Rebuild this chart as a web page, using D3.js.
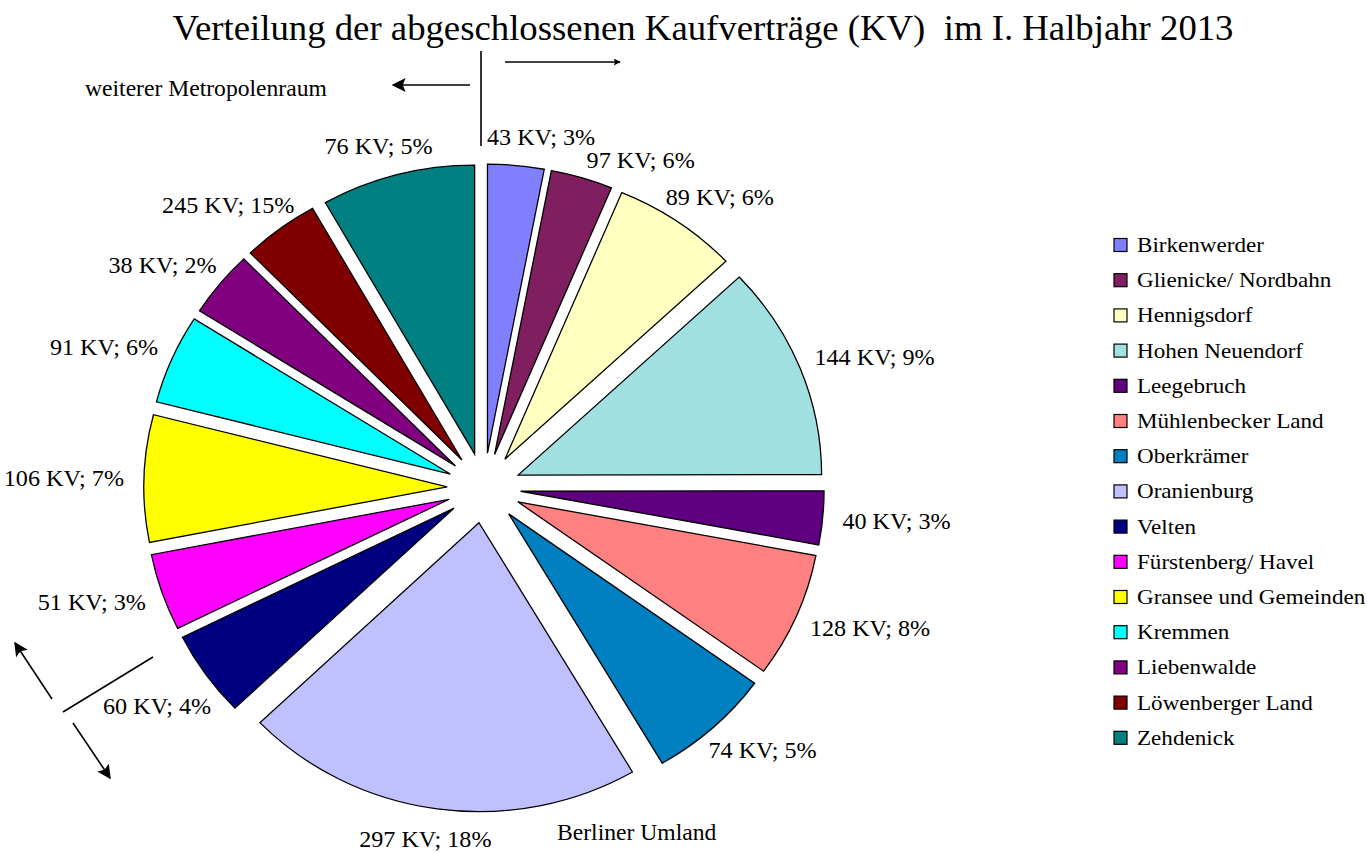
<!DOCTYPE html>
<html>
<head>
<meta charset="utf-8">
<script src="https://cdn.jsdelivr.net/npm/d3@7"></script>
<style>
	body { margin: 0; background: #fff; }
	svg { font-family: 'Liberation Serif', 'Times New Roman', serif; }
</style>
</head>
<body>
<script>
// gemeinden, in the order of the legend (clockwise from 12 o'clock)
const names = [
	'Birkenwerder', 'Glienicke/ Nordbahn', 'Hennigsdorf', 'Hohen Neuendorf', 'Leegebruch',
	'Mühlenbecker Land', 'Oberkrämer', 'Oranienburg', 'Velten', 'Fürstenberg/ Havel',
	'Gransee und Gemeinden', 'Kremmen', 'Liebenwalde', 'Löwenberger Land', 'Zehdenick'
];
const colors = [
	'#8080ff', '#7f1f5f', '#ffffc0', '#a0e0e0', '#600080',
	'#ff8080', '#0080c0', '#c0c0ff', '#000080', '#ff00ff',
	'#ffff00', '#00ffff', '#800080', '#800000', '#008080'
];
// slice size as drawn (share of the circle in %)
const sliceShare = [3.0, 3.3, 6.7, 12.0, 3.0, 7.0, 6.6, 21.3, 4.8, 4.3, 7.1, 5.0, 3.7, 4.1, 8.2];
// data labels
const kvCount = [43, 97, 89, 144, 40, 128, 74, 297, 60, 51, 106, 91, 38, 245, 76];
const kvPercent = [3, 6, 6, 9, 3, 8, 5, 18, 4, 3, 7, 6, 2, 15, 5];

const title = 'Verteilung der abgeschlossenen Kaufverträge (KV)  im I. Halbjahr 2013';

const data = names.map((name, i) => ({
	name: name,
	color: colors[i],
	share: sliceShare[i],
	count: kvCount[i],
	pct: kvPercent[i]
}));

//chart area
const totalWidth = 1367,
	totalHeight = 853,
	cx = 484,
	cy = 488,
	radius = 289,
	sx = 1.05, //whole chart is a bit wider than high
	explode = 35,
	labelR = 343;

//region arrows (berliner umland / weiterer metropolenraum)
const lines = [
	{ x1: 481, y1: 51, x2: 481, y2: 146, head: null },
	{ x1: 505, y1: 62, x2: 620, y2: 62, head: 'headSmall' },
	{ x1: 470, y1: 85, x2: 393, y2: 85, head: 'headBig' },
	{ x1: 153, y1: 657, x2: 63, y2: 712, head: null },
	{ x1: 52, y1: 699, x2: 15, y2: 643, head: 'headBig' },
	{ x1: 73, y1: 723, x2: 110, y2: 778, head: 'headBig' }
];

const svg = d3
	.select('body')
	.append('svg')
	.attr('width', totalWidth)
	.attr('height', totalHeight);

//text helper: put at x,y and stretch horizontally like the rest
function at(x, y) {
	return 'translate(' + x + ',' + y + ') scale(' + sx + ',1)';
}

svg
	.append('text')
	.attr('transform', at(703, 40))
	.attr('text-anchor', 'middle')
	.style('font-size', '35px')
	.style('white-space', 'pre')
	.text(title);

const pie = d3.pie().sort(null).value((d) => d.share);
const arcs = pie(data);
const arc = d3.arc().innerRadius(0).outerRadius(radius);
const mid = (d) => (d.startAngle + d.endAngle) / 2;

const pieG = svg
	.append('g')
	.attr('transform', 'translate(' + cx + ',' + cy + ') scale(' + sx + ',1)');

pieG
	.selectAll('path')
	.data(arcs)
	.join('path')
	.attr('d', arc)
	.attr('transform', (d) => 'translate(' + Math.sin(mid(d)) * explode + ',' + -Math.cos(mid(d)) * explode + ')')
	.attr('fill', (d) => d.data.color)
	.attr('stroke', '#000')
	.attr('stroke-width', 1.3)
	.attr('vector-effect', 'non-scaling-stroke');

//data labels outside the slices
const labels = svg
	.append('g')
	.selectAll('text')
	.data(arcs)
	.join('text')
	.attr('text-anchor', 'middle')
	.attr('dy', '0.35em')
	.style('font-size', '23px')
	.text((d) => d.data.count + ' KV; ' + d.data.pct + '%');

const boxes = arcs.map((d, i) => ({
	a: mid(d),
	w: labels.nodes()[i].getComputedTextLength() * sx,
	h: 22
}));
function place(b) {
	b.x = cx + sx * labelR * Math.sin(b.a) + (b.w / 2) * Math.sin(b.a);
	b.y = cy - labelR * Math.cos(b.a) - (b.h / 2) * Math.cos(b.a);
}
//does a label box touch one of the arrow lines?
function hits(b) {
	return lines.some((s) => {
		for (let t = 0; t <= 1; t += 0.02) {
			const px = s.x1 + (s.x2 - s.x1) * t,
				py = s.y1 + (s.y2 - s.y1) * t;
			if (Math.abs(px - b.x) < b.w / 2 + 5 && Math.abs(py - b.y) < b.h / 2 + 3) return true;
		}
		return false;
	});
}
const step = 0.004;
//move labels off the lines, smallest turn wins
boxes.forEach((b) => {
	place(b);
	if (!hits(b)) return;
	const a0 = b.a;
	for (let s = 1; s < 120; s++) {
		for (const dir of [-1, 1]) {
			b.a = a0 + dir * s * step;
			place(b);
			if (!hits(b)) return;
		}
	}
	b.a = a0;
	place(b);
});
//push neighbouring labels apart when they overlap
for (let it = 0; it < 400; it++) {
	let moved = false;
	for (let i = 0; i < boxes.length; i++) {
		const A = boxes[i],
			B = boxes[(i + 1) % boxes.length];
		if (Math.abs(A.x - B.x) < (A.w + B.w) / 2 && Math.abs(A.y - B.y) < (A.h + B.h) / 2) {
			const a0 = A.a,
				b0 = B.a;
			A.a -= step;
			B.a += step;
			place(A);
			place(B);
			if (hits(A)) {
				A.a = a0;
				B.a += step;
			}
			if (hits(B)) {
				B.a = b0;
				A.a -= step;
			}
			place(A);
			place(B);
			moved = true;
		}
	}
	if (!moved) break;
}
labels.attr('transform', (d, i) => at(boxes[i].x, boxes[i].y));

//legend
const legend = svg
	.append('g')
	.selectAll('g')
	.data(data)
	.join('g')
	.attr('transform', (d, i) => 'translate(1114,' + (245 + i * 35.2) + ')');
legend
	.append('rect')
	.attr('x', 0)
	.attr('y', -6.5)
	.attr('width', 13)
	.attr('height', 13)
	.attr('fill', (d) => d.color)
	.attr('stroke', '#000')
	.attr('stroke-width', 1.2);
legend
	.append('text')
	.attr('transform', at(23, 7))
	.style('font-size', '22px')
	.text((d) => d.name);

//arrow heads
const defs = svg.append('defs');
defs
	.append('marker')
	.attr('id', 'headBig')
	.attr('viewBox', '0 0 10 10')
	.attr('refX', 9)
	.attr('refY', 5)
	.attr('markerUnits', 'userSpaceOnUse')
	.attr('markerWidth', 18)
	.attr('markerHeight', 14)
	.attr('orient', 'auto')
	.append('path')
	.attr('d', 'M0,0 L10,5 L0,10 L2,5 Z')
	.attr('fill', '#000');
defs
	.append('marker')
	.attr('id', 'headSmall')
	.attr('viewBox', '0 0 10 10')
	.attr('refX', 9)
	.attr('refY', 5)
	.attr('markerUnits', 'userSpaceOnUse')
	.attr('markerWidth', 10)
	.attr('markerHeight', 7)
	.attr('orient', 'auto')
	.append('path')
	.attr('d', 'M0,0 L10,5 L0,10 L2,5 Z')
	.attr('fill', '#000');

svg
	.append('g')
	.selectAll('line')
	.data(lines)
	.join('line')
	.attr('x1', (d) => d.x1)
	.attr('y1', (d) => d.y1)
	.attr('x2', (d) => d.x2)
	.attr('y2', (d) => d.y2)
	.attr('stroke', '#000')
	.attr('stroke-width', 1.6)
	.attr('marker-end', (d) => (d.head ? 'url(#' + d.head + ')' : null));

svg
	.append('text')
	.attr('transform', at(85, 96))
	.style('font-size', '22.5px')
	.text('weiterer Metropolenraum');
svg
	.append('text')
	.attr('transform', at(557, 840))
	.style('font-size', '22.5px')
	.text('Berliner Umland');
</script>
</body>
</html>
